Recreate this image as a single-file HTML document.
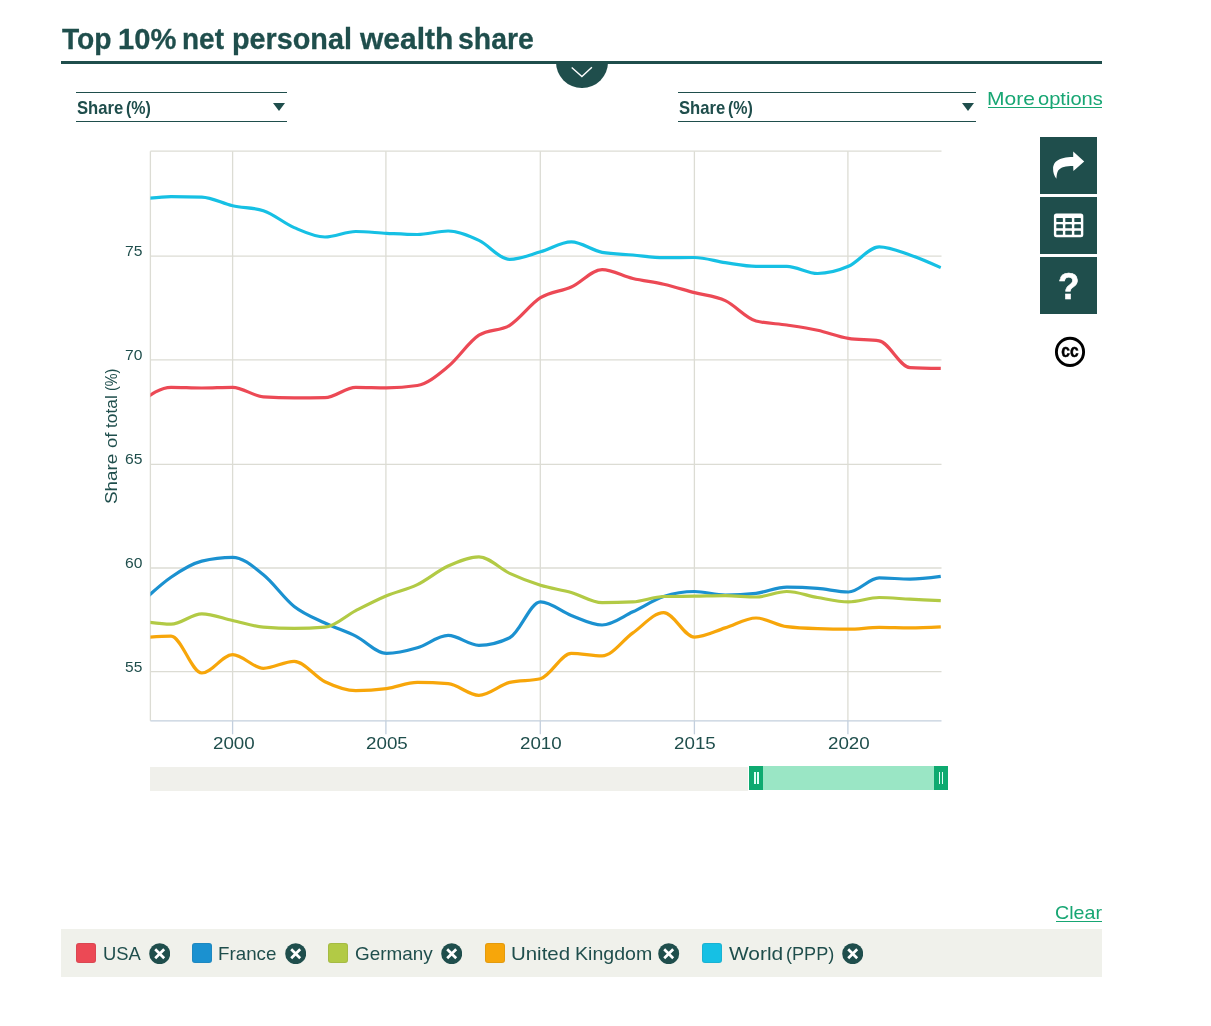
<!DOCTYPE html>
<html lang="en">
<head>
<meta charset="utf-8">
<title>Top 10% net personal wealth share</title>
<style>
html,body{margin:0;padding:0;background:#fff;}
body{width:1211px;height:1026px;position:relative;overflow:hidden;font-family:"Liberation Sans",sans-serif;color:#1f4e4c;}
.t{position:absolute;white-space:nowrap;line-height:1;transform-origin:0 0;display:block;margin:0;padding:0;font-weight:normal;}
.grp{position:absolute;left:0;top:0;margin:0;padding:0;font-weight:normal;}
.grp .t{font-weight:inherit;color:inherit;}
.ul{position:absolute;height:1.1px;display:block;}
.rule{position:absolute;left:61px;top:61px;width:1041px;height:3px;background:#1f4e4c;}
.tab{position:absolute;left:556px;top:62px;width:51.6px;height:25.8px;border-radius:0 0 25.8px 25.8px;background:#1f4e4c;}
.sel{position:absolute;top:92px;height:28.2px;border-top:1.2px solid #1f4e4c;border-bottom:1.2px solid #1f4e4c;box-sizing:content-box;}
.tri{position:absolute;width:0;height:0;border-left:6.5px solid transparent;border-right:6.5px solid transparent;border-top:8.2px solid #1f4e4c;}
.chart{position:absolute;left:0;top:0;}
.btn{position:absolute;left:1040px;width:57px;height:57px;background:#1f4e4c;}
.btn svg{position:absolute;left:0;top:0;}
.track{position:absolute;left:150.4px;top:766.5px;width:598px;height:24px;background:#f0f0eb;}
.range{position:absolute;left:749px;top:765.5px;width:198.5px;height:24.2px;background:#9ae6c5;}
.handle{position:absolute;top:765.5px;width:13.8px;height:24.2px;background:#0eaa70;}
.handle i{position:absolute;top:6px;width:1.4px;height:12px;background:#e0fff6;}
.legend{position:absolute;left:61px;top:929px;width:1041px;height:48px;background:#f0f1eb;}
.sw{position:absolute;top:943px;width:20px;height:20px;border-radius:3px;box-shadow:inset 0 0 0 1px rgba(60,60,60,0.10);}
.x{position:absolute;top:942.8px;width:21.4px;height:21.4px;}

</style>
</head>
<body>

<h1 class="grp" style="font-size:30px;color:#1f4e4c;font-weight:bold;-webkit-text-stroke:0.3px #1f4e4c;"><span class="t" style="left:61.92px;top:24.31px;transform:scaleX(0.9390);">Top</span> <span class="t" style="left:117.58px;top:24.31px;transform:scaleX(0.9708);">10%</span> <span class="t" style="left:181.58px;top:24.31px;transform:scaleX(0.9326);">net</span> <span class="t" style="left:232.33px;top:24.31px;transform:scaleX(0.9589);">personal</span> <span class="t" style="left:359.58px;top:24.31px;transform:scaleX(1.0003);">wealth</span> <span class="t" style="left:458.41px;top:24.31px;transform:scaleX(0.9474);">share</span></h1>
<div class="rule"></div>
<div class="tab"><svg width="52" height="26" viewBox="0 0 52 26" style="position:absolute;left:0;top:0"><path d="M15.7 5.6 L25.9 14.6 L35.9 5.3" fill="none" stroke="#fff" stroke-width="1.4"/></svg></div>
<div class="sel" style="left:76px;width:211px"></div>
<div class="grp" style="font-size:18.6px;color:#1f4e4c;font-weight:bold;"><span class="t" style="left:76.50px;top:98.76px;transform:scaleX(0.8951);">Share</span> <span class="t" style="left:126.20px;top:98.76px;transform:scaleX(0.8610);">(%)</span></div>
<div class="tri" style="left:272.6px;top:103.3px"></div>
<div class="sel" style="left:678px;width:298px"></div>
<div class="grp" style="font-size:18.6px;color:#1f4e4c;font-weight:bold;"><span class="t" style="left:678.50px;top:98.76px;transform:scaleX(0.8951);">Share</span> <span class="t" style="left:728.20px;top:98.76px;transform:scaleX(0.8610);">(%)</span></div>
<div class="tri" style="left:962px;top:103.3px"></div>
<a class="grp" style="font-size:18.4px;color:#17a673;"><span class="t" style="left:986.57px;top:89.82px;transform:scaleX(1.1412);">More</span> <span class="t" style="left:1038.05px;top:89.82px;transform:scaleX(1.0930);">options</span><i class="ul" style="left:988.3px;top:106.8px;width:113.9px;background:#17a673"></i></a>
<svg class="chart" width="1211" height="1026" viewBox="0 0 1211 1026">
<defs><clipPath id="plotclip"><rect x="150.4" y="146.2" width="791.1" height="579.5999999999999"/></clipPath></defs>
<g stroke="#dcdcd4" stroke-width="1.3" fill="none"><line x1="150.4" x2="941.5" y1="256.2" y2="256.2"/><line x1="150.4" x2="941.5" y1="359.9" y2="359.9"/><line x1="150.4" x2="941.5" y1="464.3" y2="464.3"/><line x1="150.4" x2="941.5" y1="568.0" y2="568.0"/><line x1="150.4" x2="941.5" y1="671.6" y2="671.6"/><line x1="232.6" x2="232.6" y1="151.2" y2="720.8"/><line x1="385.9" x2="385.9" y1="151.2" y2="720.8"/><line x1="540.3" x2="540.3" y1="151.2" y2="720.8"/><line x1="694.4" x2="694.4" y1="151.2" y2="720.8"/><line x1="847.9" x2="847.9" y1="151.2" y2="720.8"/><line x1="150.4" x2="941.5" y1="151.2" y2="151.2"/><line x1="150.4" x2="150.4" y1="151.2" y2="720.8"/></g>
<g stroke="#c3cfdd" stroke-width="1.3" fill="none"><line x1="150.4" x2="941.5" y1="720.8" y2="720.8"/><line x1="232.6" x2="232.6" y1="720.8" y2="734.3"/><line x1="385.9" x2="385.9" y1="720.8" y2="734.3"/><line x1="540.3" x2="540.3" y1="720.8" y2="734.3"/><line x1="694.4" x2="694.4" y1="720.8" y2="734.3"/><line x1="847.9" x2="847.9" y1="720.8" y2="734.3"/></g>
<g clip-path="url(#plotclip)" fill="none" stroke-width="3.2" stroke-linecap="butt" stroke-linejoin="round">
<path stroke="#ec4955" d="M140.23,402.00C150.49,394.65,160.76,387.30,171.02,387.30C181.28,387.30,191.55,388.00,201.81,388.00C212.07,388.00,222.34,387.30,232.60,387.30C242.86,387.30,253.13,396.23,263.39,396.90C273.65,397.57,283.92,397.90,294.18,397.90C304.44,397.90,314.71,397.83,324.97,397.70C335.23,397.57,345.50,387.30,355.76,387.30C366.02,387.30,376.29,387.80,386.55,387.80C396.81,387.80,407.08,387.03,417.34,385.50C427.60,383.97,437.87,374.98,448.13,366.60C458.39,358.22,468.66,341.80,478.92,335.20C489.18,328.60,499.45,331.55,509.71,325.30C519.97,319.05,530.24,304.08,540.50,297.70C550.76,291.32,561.03,291.68,571.29,287.00C581.55,282.32,591.82,269.60,602.08,269.60C612.34,269.60,622.61,276.07,632.87,278.50C643.13,280.93,653.40,281.85,663.66,284.20C673.92,286.55,684.19,289.87,694.45,292.60C704.71,295.33,714.98,295.87,725.24,300.60C735.50,305.33,745.77,318.33,756.03,321.00C766.29,323.67,776.56,323.47,786.82,325.00C797.08,326.53,807.35,327.97,817.61,330.20C827.87,332.43,838.14,336.73,848.40,338.40C858.66,340.07,868.93,339.23,879.19,340.90C889.45,342.57,899.72,367.07,909.98,367.60C920.24,368.13,930.51,368.27,940.77,368.40"/>
<path stroke="#1b91d0" d="M140.23,603.50C150.49,593.88,160.76,584.27,171.02,577.20C181.28,570.13,191.55,563.63,201.81,561.10C212.07,558.57,222.34,557.30,232.60,557.30C242.86,557.30,253.13,566.52,263.39,574.70C273.65,582.88,283.92,598.35,294.18,606.40C304.44,614.45,314.71,618.05,324.97,623.00C335.23,627.95,345.50,631.03,355.76,636.10C366.02,641.17,376.29,653.40,386.55,653.40C396.81,653.40,407.08,650.80,417.34,647.80C427.60,644.80,437.87,635.40,448.13,635.40C458.39,635.40,468.66,645.30,478.92,645.30C489.18,645.30,499.45,642.80,509.71,637.80C519.97,632.80,530.24,601.90,540.50,601.90C550.76,601.90,561.03,611.65,571.29,615.50C581.55,619.35,591.82,625.00,602.08,625.00C612.34,625.00,622.61,616.55,632.87,611.80C643.13,607.05,653.40,599.83,663.66,596.50C673.92,593.17,684.19,591.50,694.45,591.50C704.71,591.50,714.98,595.00,725.24,595.00C735.50,595.00,745.77,594.43,756.03,593.30C766.29,592.17,776.56,587.10,786.82,587.10C797.08,587.10,807.35,587.50,817.61,588.30C827.87,589.10,838.14,592.00,848.40,592.00C858.66,592.00,868.93,577.90,879.19,577.90C889.45,577.90,899.72,579.10,909.98,579.10C920.24,579.10,930.51,577.75,940.77,576.40"/>
<path stroke="#b2ca45" d="M140.23,621.00C150.49,622.60,160.76,624.20,171.02,624.20C181.28,624.20,191.55,613.80,201.81,613.80C212.07,613.80,222.34,618.27,232.60,620.50C242.86,622.73,253.13,626.40,263.39,627.20C273.65,628.00,283.92,628.40,294.18,628.40C304.44,628.40,314.71,628.00,324.97,627.20C335.23,626.40,345.50,615.85,355.76,610.60C366.02,605.35,376.29,600.03,386.55,595.70C396.81,591.37,407.08,589.55,417.34,584.60C427.60,579.65,437.87,570.63,448.13,566.00C458.39,561.37,468.66,556.80,478.92,556.80C489.18,556.80,499.45,568.65,509.71,573.40C519.97,578.15,530.24,582.12,540.50,585.30C550.76,588.48,561.03,589.60,571.29,592.50C581.55,595.40,591.82,602.70,602.08,602.70C612.34,602.70,622.61,602.43,632.87,601.90C643.13,601.37,653.40,596.70,663.66,596.50C673.92,596.30,684.19,596.33,694.45,596.20C704.71,596.07,714.98,595.70,725.24,595.70C735.50,595.70,745.77,597.00,756.03,597.00C766.29,597.00,776.56,591.50,786.82,591.50C797.08,591.50,807.35,595.77,817.61,597.50C827.87,599.23,838.14,601.90,848.40,601.90C858.66,601.90,868.93,597.50,879.19,597.50C889.45,597.50,899.72,598.67,909.98,599.20C920.24,599.73,930.51,600.22,940.77,600.70"/>
<path stroke="#f7a60a" d="M140.23,638.00C150.49,637.05,160.76,636.10,171.02,636.10C181.28,636.10,191.55,673.00,201.81,673.00C212.07,673.00,222.34,654.70,232.60,654.70C242.86,654.70,253.13,668.30,263.39,668.30C273.65,668.30,283.92,661.40,294.18,661.40C304.44,661.40,314.71,676.83,324.97,681.70C335.23,686.57,345.50,690.60,355.76,690.60C366.02,690.60,376.29,689.93,386.55,688.60C396.81,687.27,407.08,682.40,417.34,682.40C427.60,682.40,437.87,682.83,448.13,683.70C458.39,684.57,468.66,695.30,478.92,695.30C489.18,695.30,499.45,684.87,509.71,682.40C519.97,679.93,530.24,681.17,540.50,678.70C550.76,676.23,561.03,653.40,571.29,653.40C581.55,653.40,591.82,655.90,602.08,655.90C612.34,655.90,622.61,640.12,632.87,632.90C643.13,625.68,653.40,612.60,663.66,612.60C673.92,612.60,684.19,637.10,694.45,637.10C704.71,637.10,714.98,631.08,725.24,627.90C735.50,624.72,745.77,618.00,756.03,618.00C766.29,618.00,776.56,625.37,786.82,626.70C797.08,628.03,807.35,628.37,817.61,628.70C827.87,629.03,838.14,629.20,848.40,629.20C858.66,629.20,868.93,627.40,879.19,627.40C889.45,627.40,899.72,627.90,909.98,627.90C920.24,627.90,930.51,627.40,940.77,626.90"/>
<path stroke="#16c0e4" d="M140.23,199.50C150.49,198.05,160.76,196.60,171.02,196.60C181.28,196.60,191.55,196.77,201.81,197.10C212.07,197.43,222.34,203.53,232.60,205.80C242.86,208.07,253.13,207.43,263.39,210.70C273.65,213.97,283.92,223.22,294.18,227.60C304.44,231.98,314.71,237.00,324.97,237.00C335.23,237.00,345.50,231.50,355.76,231.50C366.02,231.50,376.29,232.80,386.55,233.30C396.81,233.80,407.08,234.50,417.34,234.50C427.60,234.50,437.87,231.00,448.13,231.00C458.39,231.00,468.66,235.67,478.92,240.40C489.18,245.13,499.45,259.40,509.71,259.40C519.97,259.40,530.24,254.72,540.50,251.80C550.76,248.88,561.03,241.90,571.29,241.90C581.55,241.90,591.82,250.50,602.08,252.30C612.34,254.10,622.61,254.10,632.87,255.00C643.13,255.90,653.40,257.70,663.66,257.70C673.92,257.70,684.19,257.50,694.45,257.50C704.71,257.50,714.98,261.13,725.24,262.60C735.50,264.07,745.77,266.30,756.03,266.30C766.29,266.30,776.56,266.30,786.82,266.30C797.08,266.30,807.35,273.50,817.61,273.50C827.87,273.50,838.14,270.75,848.40,266.30C858.66,261.85,868.93,246.80,879.19,246.80C889.45,246.80,899.72,251.43,909.98,254.90C920.24,258.37,930.51,262.98,940.77,267.60"/>
</g>
</svg>
<span class="t ax" style="left:125.32px;top:243.16px;font-size:15.4px;transform:scaleX(1.0186);color:#1f4e4c;">75</span>
<span class="t ax" style="left:125.32px;top:346.86px;font-size:15.4px;transform:scaleX(1.0161);color:#1f4e4c;">70</span>
<span class="t ax" style="left:125.32px;top:451.26px;font-size:15.4px;transform:scaleX(1.0186);color:#1f4e4c;">65</span>
<span class="t ax" style="left:125.32px;top:554.96px;font-size:15.4px;transform:scaleX(1.0161);color:#1f4e4c;">60</span>
<span class="t ax" style="left:125.48px;top:658.56px;font-size:15.4px;transform:scaleX(1.0087);color:#1f4e4c;">55</span>
<span class="t ax" style="left:212.66px;top:734.90px;font-size:16.3px;transform:scaleX(1.1523);color:#1f4e4c;">2000</span>
<span class="t ax" style="left:365.96px;top:734.90px;font-size:16.3px;transform:scaleX(1.1536);color:#1f4e4c;">2005</span>
<span class="t ax" style="left:520.36px;top:734.90px;font-size:16.3px;transform:scaleX(1.1523);color:#1f4e4c;">2010</span>
<span class="t ax" style="left:674.46px;top:734.90px;font-size:16.3px;transform:scaleX(1.1536);color:#1f4e4c;">2015</span>
<span class="t ax" style="left:827.96px;top:734.90px;font-size:16.3px;transform:scaleX(1.1523);color:#1f4e4c;">2020</span>
<div class="grp ylab" style="font-size:16.2px;left:116.6px;top:503.0px;transform-origin:0 0;transform:rotate(-90deg)"><span class="t" style="left:-0.85px;top:-13.71px;transform:scaleX(1.1652)">Share</span> <span class="t" style="left:54.52px;top:-13.71px;transform:scaleX(1.1372)">of</span> <span class="t" style="left:74.74px;top:-13.71px;transform:scaleX(1.0758)">total</span> <span class="t" style="left:112.11px;top:-13.71px;transform:scaleX(0.8834)">(%)</span></div>
<div class="btn" style="top:137px"><svg width="57" height="57" viewBox="0 0 57 57"><path d="M33.2 14.6 L44.2 24.4 L33.4 34.1 L33.2 28.9 C26 28.9 20.5 30 18.2 33.5 C17 35.5 16.6 38.5 16.4 41.8 C14.2 38.5 13 35 13.1 31.9 C13.3 25 18 20.3 33.2 20.1 Z" fill="#fff"/></svg></div>
<div class="btn" style="top:197px"><svg width="57" height="57" viewBox="0 0 57 57"><rect x="13.9" y="16.5" width="29.4" height="23.7" rx="2.5" fill="#fff"/><rect x="16.3" y="21" width="6.6" height="4" rx="0.6" fill="#1f4e4c"/><rect x="25.3" y="21" width="6.6" height="4" rx="0.6" fill="#1f4e4c"/><rect x="34.3" y="21" width="6.6" height="4" rx="0.6" fill="#1f4e4c"/><rect x="16.3" y="27.3" width="6.6" height="4" rx="0.6" fill="#1f4e4c"/><rect x="25.3" y="27.3" width="6.6" height="4" rx="0.6" fill="#1f4e4c"/><rect x="34.3" y="27.3" width="6.6" height="4" rx="0.6" fill="#1f4e4c"/><rect x="16.3" y="33.8" width="6.6" height="4" rx="0.6" fill="#1f4e4c"/><rect x="25.3" y="33.8" width="6.6" height="4" rx="0.6" fill="#1f4e4c"/><rect x="34.3" y="33.8" width="6.6" height="4" rx="0.6" fill="#1f4e4c"/></svg></div>
<div class="btn" style="top:257px"></div>
<span class="t " style="left:1058.02px;top:268.75px;font-size:36.8px;transform:scaleX(0.9531);color:#fff;font-weight:bold;-webkit-text-stroke:0.6px #fff;">?</span>
<svg style="position:absolute;left:1050px;top:332px" width="40" height="40" viewBox="0 0 40 40"><circle cx="20" cy="19.9" r="13.6" fill="#fff" stroke="#000" stroke-width="2.9"/><text x="11.3" y="24.8" font-family="Liberation Sans, sans-serif" font-weight="bold" font-size="18.8" textLength="17.3" lengthAdjust="spacingAndGlyphs" fill="#000" stroke="#000" stroke-width="0.5">cc</text></svg>
<div class="track"></div><div class="range"></div>
<div class="handle" style="left:749.2px"><i style="left:5.2px"></i><i style="left:8px"></i></div>
<div class="handle" style="left:933.8px"><i style="left:5.2px"></i><i style="left:8px"></i></div>
<a class="grp" style="font-size:18.4px;color:#17a673;"><span class="t" style="left:1055.32px;top:904.02px;transform:scaleX(1.0683);">Clear</span><i class="ul" style="left:1056.3px;top:920.6px;width:45.7px;background:#17a673"></i></a>
<div class="legend"></div>
<div class="sw" style="left:75.8px;background:#ec4955"></div>
<div class="grp" style="font-size:19px;color:#1f4e4c;"><span class="t" style="left:102.57px;top:943.72px;transform:scaleX(0.9688);">USA</span></div>
<svg class="x" style="left:149.0px" viewBox="0 0 21.4 21.4"><circle cx="10.7" cy="10.7" r="10.5" fill="#1f4e4c"/><path d="M6.2 6.2 L15.2 15.2 M15.2 6.2 L6.2 15.2" stroke="#fff" stroke-width="2.7" fill="none"/></svg>
<div class="sw" style="left:192.0px;background:#1b91d0"></div>
<div class="grp" style="font-size:19px;color:#1f4e4c;"><span class="t" style="left:218.45px;top:943.72px;transform:scaleX(0.9874);">France</span></div>
<svg class="x" style="left:284.8px" viewBox="0 0 21.4 21.4"><circle cx="10.7" cy="10.7" r="10.5" fill="#1f4e4c"/><path d="M6.2 6.2 L15.2 15.2 M15.2 6.2 L6.2 15.2" stroke="#fff" stroke-width="2.7" fill="none"/></svg>
<div class="sw" style="left:327.9px;background:#b2ca45"></div>
<div class="grp" style="font-size:19px;color:#1f4e4c;"><span class="t" style="left:354.95px;top:943.72px;transform:scaleX(0.9956);">Germany</span></div>
<svg class="x" style="left:440.9px" viewBox="0 0 21.4 21.4"><circle cx="10.7" cy="10.7" r="10.5" fill="#1f4e4c"/><path d="M6.2 6.2 L15.2 15.2 M15.2 6.2 L6.2 15.2" stroke="#fff" stroke-width="2.7" fill="none"/></svg>
<div class="sw" style="left:484.8px;background:#f7a60a"></div>
<div class="grp" style="font-size:19px;color:#1f4e4c;"><span class="t" style="left:511.12px;top:943.72px;transform:scaleX(1.0756);">United</span> <span class="t" style="left:574.78px;top:943.72px;transform:scaleX(1.0305);">Kingdom</span></div>
<svg class="x" style="left:658.2px" viewBox="0 0 21.4 21.4"><circle cx="10.7" cy="10.7" r="10.5" fill="#1f4e4c"/><path d="M6.2 6.2 L15.2 15.2 M15.2 6.2 L6.2 15.2" stroke="#fff" stroke-width="2.7" fill="none"/></svg>
<div class="sw" style="left:701.6px;background:#16c0e4"></div>
<div class="grp" style="font-size:19px;color:#1f4e4c;"><span class="t" style="left:729.20px;top:943.72px;transform:scaleX(1.1006);">World</span> <span class="t" style="left:786.37px;top:943.72px;transform:scaleX(0.9534);">(PPP)</span></div>
<svg class="x" style="left:842.1px" viewBox="0 0 21.4 21.4"><circle cx="10.7" cy="10.7" r="10.5" fill="#1f4e4c"/><path d="M6.2 6.2 L15.2 15.2 M15.2 6.2 L6.2 15.2" stroke="#fff" stroke-width="2.7" fill="none"/></svg>
</body></html>
